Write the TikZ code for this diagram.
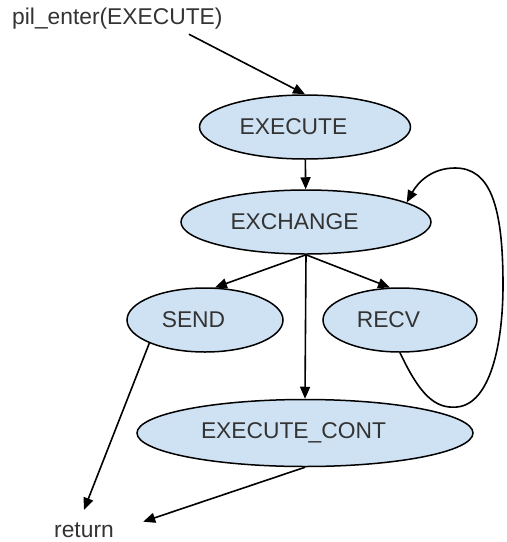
\documentclass[tikz,border=0pt]{standalone}
\usepackage{fontspec}
\setmainfont{Liberation Sans}
\usetikzlibrary{positioning, arrows.meta, shapes.geometric}
\definecolor{statefill}{HTML}{CFE2F3}
\definecolor{labelgray}{HTML}{333333}

\begin{document}
\begin{tikzpicture}[
  x=1pt, y=-1pt, >={Triangle[length=12pt,width=10pt]},
  state/.style={ellipse, draw, line width=1.5pt, fill=statefill, text=labelgray,
                inner sep=0pt, minimum height=64pt,
                font=\fontsize{22.8}{27}\selectfont,
                execute at end node=\hspace*{23pt}},
  term/.style={text=labelgray, inner sep=0pt,
               font=\fontsize{22.8}{27}\selectfont},
  flow/.style={->, line width=1.6pt},
]
\useasboundingbox (0,0) rectangle (507,542);

% --- entry and exit labels ---
\node[term, anchor=west, minimum height=30pt] (enter) at (12,19) {pil\_enter(EXECUTE)};
\node[term, minimum width=118pt, minimum height=40pt] (ret) at (84,530) {return};

% --- states ---
\node[state, minimum width=211pt] (exec) at (305,127) {EXECUTE};
\node[state, minimum width=250pt] (exch) at (306,222) {EXCHANGE};
\node[state, minimum width=156pt] (send) at (205,320) {SEND};
\node[state, minimum width=154pt] (recv) at (400,320) {RECV};
\node[state, minimum width=336pt, minimum height=67pt] (cont) at (305,433) {EXECUTE\_CONT};

% --- transitions ---
\draw[flow] (enter.348) -- (exec.north);
\draw[flow] (exec) -- (exch);
\draw[flow] (exch.south) -- (send.73);
\draw[flow] (exch.south) -- (recv.107);
\draw[flow] (exch.south) -- (cont.north);
\draw[flow] (send.south west) -- (ret.north);
\draw[flow] (cont.south) -- (ret.8);

% --- loop back from RECV ---
\draw[flow] (recv.south) .. controls (420,395) and (435,409) .. (457,407)
  .. controls (490,404) and (503,345) .. (503,285)
  .. controls (503,205) and (490,168) .. (455,168)
  .. controls (432,168) and (418,182) .. (exch.11);
\end{tikzpicture}
\end{document}
